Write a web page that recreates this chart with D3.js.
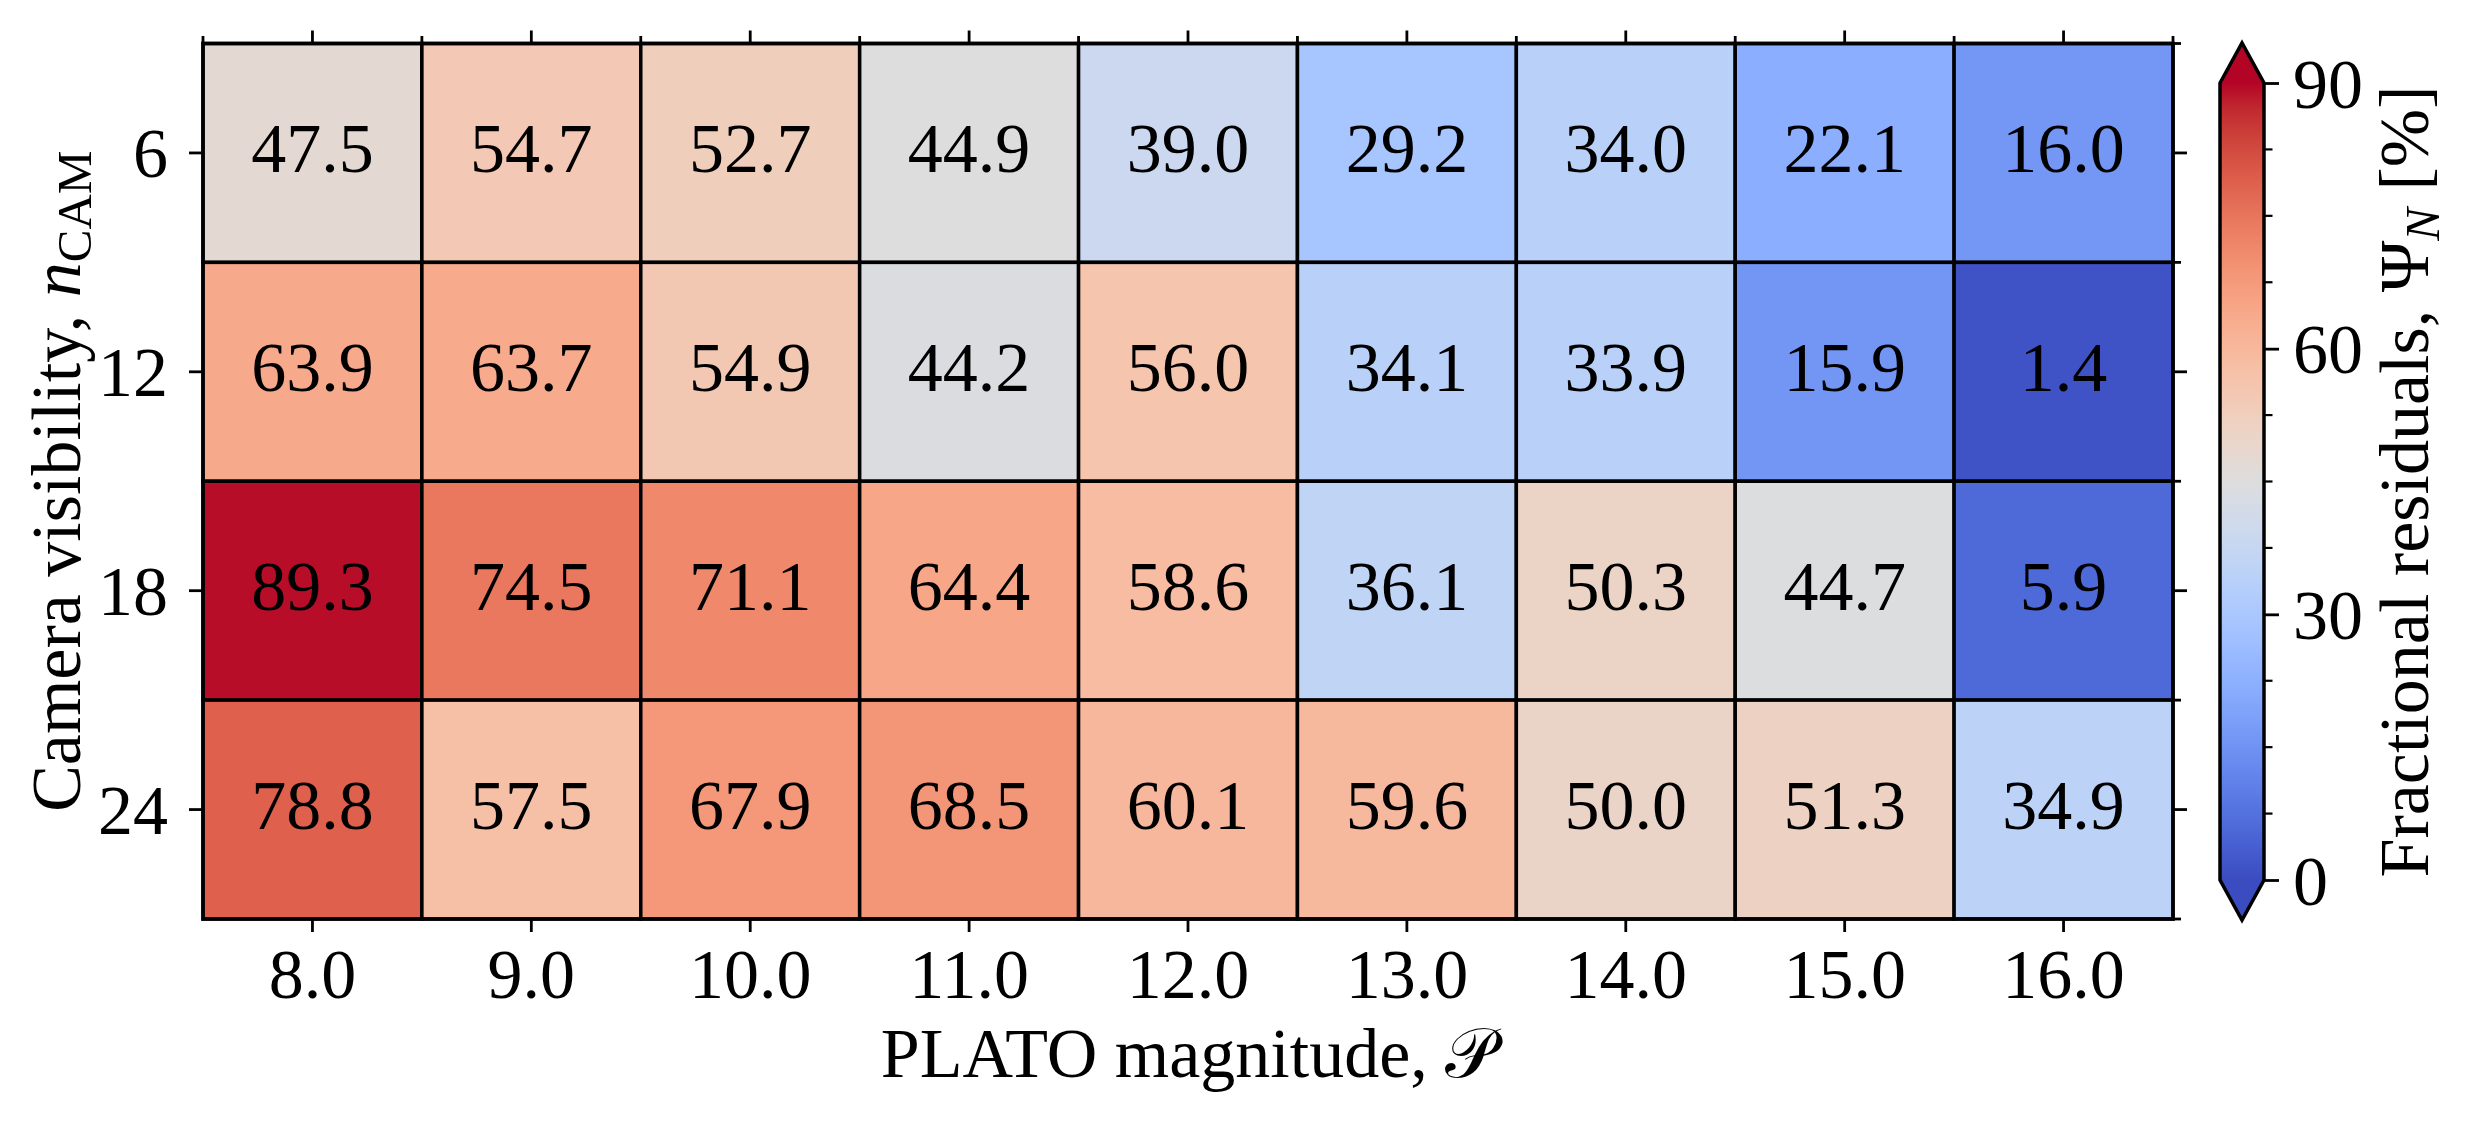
<!DOCTYPE html>
<html>
<head>
<meta charset="utf-8">
<script src="https://cdn.jsdelivr.net/npm/d3@7"></script>
<style>
  html, body { margin: 0; padding: 0; background: #fff; }
  svg { display: block; }
  text { font-family: "Liberation Serif", "DejaVu Serif", serif; fill: #000; }
</style>
</head>
<body>
<svg id="chart" width="2475" height="1121"></svg>
<script>
// ---- data ----
const magnitudes = ["8.0", "9.0", "10.0", "11.0", "12.0", "13.0", "14.0", "15.0", "16.0"];
const cameras = ["6", "12", "18", "24"];
const row6  = [47.5, 54.7, 52.7, 44.9, 39.0, 29.2, 34.0, 22.1, 16.0];
const row12 = [63.9, 63.7, 54.9, 44.2, 56.0, 34.1, 33.9, 15.9, 1.4];
const row18 = [89.3, 74.5, 71.1, 64.4, 58.6, 36.1, 50.3, 44.7, 5.9];
const row24 = [78.8, 57.5, 67.9, 68.5, 60.1, 59.6, 50.0, 51.3, 34.9];
const colorbarTicks = [0, 30, 60, 90];
const colorbarMinorTicks = [7.5, 15, 22.5, 37.5, 45, 52.5, 67.5, 75, 82.5];
const vmin = 0, vmax = 90;

// coolwarm (Moreland) control colours
const coolwarmStops = [
  [59,76,192],[68,90,204],[77,104,215],[87,117,225],[98,130,234],[108,142,241],
  [119,154,247],[130,165,251],[141,176,254],[152,185,255],[163,194,255],[174,201,253],
  [184,208,249],[194,213,244],[204,217,238],[213,219,230],[221,221,221],[229,216,209],
  [236,211,197],[241,204,185],[245,196,173],[247,187,160],[247,177,148],[247,166,135],
  [244,154,123],[241,141,111],[236,127,99],[229,112,88],[222,96,77],[213,80,66],
  [203,62,56],[192,40,47],[180,4,38]
];

// ---- layout ----
const plot = { x0: 203, x1: 2173, y0: 43.5, y1: 919 };
const cb = { x0: 2220, x1: 2264, y0: 83, y1: 880, tipTop: 43, tipBot: 920 };
const FS = 70;

const svg = d3.select("#chart");
svg.append("rect").attr("width", 2475).attr("height", 1121).attr("fill", "#fff");

const cmapScale = d3.scaleLinear()
  .domain(coolwarmStops.map((_, i) => i / (coolwarmStops.length - 1)))
  .range(coolwarmStops.map(c => d3.rgb(c[0], c[1], c[2]).toString()))
  .interpolate(d3.interpolateRgb)
  .clamp(true);
const norm = d3.scaleLinear().domain([vmin, vmax]).range([0, 1]).clamp(true);
const color = v => cmapScale(norm(v));

const x = d3.scaleBand().domain(magnitudes).range([plot.x0, plot.x1]).padding(0);
const y = d3.scaleBand().domain(cameras).range([plot.y0, plot.y1]).padding(0);

const rows = [row6, row12, row18, row24];
const cells = [];
rows.forEach((r, ri) => r.forEach((v, ci) => cells.push({ cam: cameras[ri], mag: magnitudes[ci], v })));

// ---- cells ----
const g = svg.append("g");
g.selectAll("rect.cell").data(cells).join("rect")
  .attr("class", "cell")
  .attr("x", d => x(d.mag)).attr("y", d => y(d.cam))
  .attr("width", x.bandwidth()).attr("height", y.bandwidth())
  .attr("fill", d => color(d.v))
  .attr("stroke", "#000").attr("stroke-width", 3.5);

g.selectAll("text.val").data(cells).join("text")
  .attr("class", "val")
  .attr("x", d => x(d.mag) + x.bandwidth() / 2)
  .attr("y", d => y(d.cam) + y.bandwidth() / 2 + 19)
  .attr("text-anchor", "middle")
  .attr("font-size", FS)
  .text(d => d.v.toFixed(1));

// spine
svg.append("rect")
  .attr("x", plot.x0).attr("y", plot.y0)
  .attr("width", plot.x1 - plot.x0).attr("height", plot.y1 - plot.y0)
  .attr("fill", "none").attr("stroke", "#000").attr("stroke-width", 3.5);

// ---- axes ----
const tickW = 2.8;
const bottomAxis = d3.axisBottom(x).tickSize(13).tickPadding(18);
const gb = svg.append("g").attr("transform", `translate(0,${plot.y1})`).call(bottomAxis);
const leftAxis = d3.axisLeft(y).tickSize(14).tickPadding(20);
const gl = svg.append("g").attr("transform", `translate(${plot.x0},0)`).call(leftAxis);
const topAxis = d3.axisTop(x).tickSize(13).tickFormat("");
const gt = svg.append("g").attr("transform", `translate(0,${plot.y0})`).call(topAxis);
const rightAxis = d3.axisRight(y).tickSize(14).tickFormat("");
const gr = svg.append("g").attr("transform", `translate(${plot.x1},0)`).call(rightAxis);

[gb, gl, gt, gr].forEach(ax => {
  ax.select(".domain").remove();
  ax.selectAll(".tick line").attr("stroke", "#000").attr("stroke-width", tickW);
  ax.selectAll(".tick text").attr("font-size", FS).attr("fill", "#000")
    .style("font-family", '"Liberation Serif", "DejaVu Serif", serif');
});
gb.selectAll(".tick text").attr("dy", null).attr("y", 79);
gl.selectAll(".tick text").attr("dy", null).attr("y", 24).attr("x", -35);

// minor ticks at cell boundaries (top and right)
const colEdges = magnitudes.map(m => x(m)).concat([plot.x1]);
const rowEdges = cameras.map(c => y(c)).concat([plot.y1]);
svg.append("g").selectAll("line").data(colEdges).join("line")
  .attr("x1", d => d).attr("x2", d => d)
  .attr("y1", plot.y0).attr("y2", plot.y0 - 7.5)
  .attr("stroke", "#000").attr("stroke-width", tickW);
svg.append("g").selectAll("line").data(rowEdges).join("line")
  .attr("y1", d => d).attr("y2", d => d)
  .attr("x1", plot.x1).attr("x2", plot.x1 + 8)
  .attr("stroke", "#000").attr("stroke-width", tickW);

// axis labels
svg.append("text")
  .attr("x", (plot.x0 + plot.x1) / 2).attr("y", 1077)
  .attr("text-anchor", "middle").attr("font-size", FS)
  .call(t => {
    t.append("tspan").text("PLATO magnitude, ");
    t.append("tspan").text("𝒫");
  });

svg.append("text")
  .attr("transform", `translate(80,${(plot.y0 + plot.y1) / 2}) rotate(-90)`)
  .attr("text-anchor", "middle").attr("font-size", FS)
  .call(t => {
    t.append("tspan").text("Camera visibility, ");
    t.append("tspan").attr("font-style", "italic").text("n");
    t.append("tspan").attr("font-size", FS * 0.7).attr("dy", 11).text("CAM");
  });

// ---- colorbar ----
const cbY = d3.scaleLinear().domain([vmin, vmax]).range([cb.y1, cb.y0]);
const defs = svg.append("defs");
const grad = defs.append("linearGradient").attr("id", "cbgrad")
  .attr("x1", 0).attr("y1", 1).attr("x2", 0).attr("y2", 0);
grad.selectAll("stop").data(d3.range(0, 1.0001, 1 / 64)).join("stop")
  .attr("offset", d => d).attr("stop-color", d => cmapScale(d));

svg.append("rect")
  .attr("x", cb.x0).attr("y", cbY(vmax))
  .attr("width", cb.x1 - cb.x0).attr("height", cbY(vmin) - cbY(vmax))
  .attr("fill", "url(#cbgrad)");
const cx = (cb.x0 + cb.x1) / 2;
svg.append("path")
  .attr("d", `M${cb.x0},${cbY(vmax)} L${cx},${cb.tipTop} L${cb.x1},${cbY(vmax)} Z`)
  .attr("fill", color(vmax));
svg.append("path")
  .attr("d", `M${cb.x0},${cbY(vmin)} L${cx},${cb.tipBot} L${cb.x1},${cbY(vmin)} Z`)
  .attr("fill", color(vmin));
svg.append("path")
  .attr("d", `M${cb.x0},${cbY(vmax)} L${cx},${cb.tipTop} L${cb.x1},${cbY(vmax)} L${cb.x1},${cbY(vmin)} L${cx},${cb.tipBot} L${cb.x0},${cbY(vmin)} Z`)
  .attr("fill", "none").attr("stroke", "#000").attr("stroke-width", 3.5).attr("stroke-linejoin", "miter");

const cbAxis = d3.axisRight(cbY).tickValues(colorbarTicks).tickSize(15).tickPadding(14).tickFormat(d3.format("d"));
const gcb = svg.append("g").attr("transform", `translate(${cb.x1},0)`).call(cbAxis);
gcb.select(".domain").remove();
gcb.selectAll(".tick line").attr("stroke", "#000").attr("stroke-width", tickW);
gcb.selectAll(".tick text").attr("font-size", FS).attr("fill", "#000").attr("dy", null).attr("y", 24)
  .style("font-family", '"Liberation Serif", "DejaVu Serif", serif');
svg.append("g").selectAll("line").data(colorbarMinorTicks).join("line")
  .attr("x1", cb.x1).attr("x2", cb.x1 + 8.5)
  .attr("y1", d => cbY(d)).attr("y2", d => cbY(d))
  .attr("stroke", "#000").attr("stroke-width", 2.2);

svg.append("text")
  .attr("transform", `translate(2428,${(cb.tipTop + cb.tipBot) / 2}) rotate(-90)`)
  .attr("text-anchor", "middle").attr("font-size", FS)
  .call(t => {
    t.append("tspan").text("Fractional residuals, Ψ");
    t.append("tspan").attr("font-style", "italic").attr("font-size", FS * 0.7).attr("dy", 11).text("N");
    t.append("tspan").attr("dy", -11).text(" [%]");
  });
</script>
</body>
</html>
